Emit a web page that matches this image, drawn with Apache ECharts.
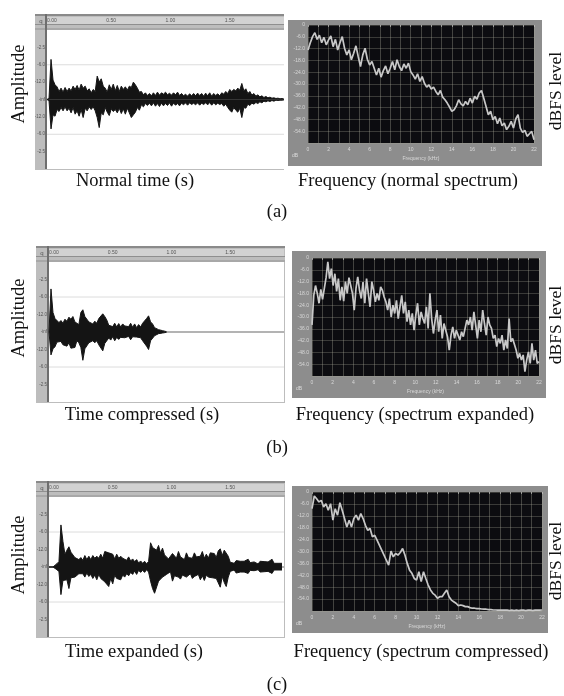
<!DOCTYPE html>
<html><head><meta charset="utf-8">
<style>html,body{margin:0;padding:0;background:#fff}#c{width:564px;height:696px;filter:blur(0.5px)}</style>
<script src="https://cdn.jsdelivr.net/npm/echarts@6/dist/echarts.min.js"></script>
</head><body><div id="c"></div>
<script>
// ---- Waveform envelopes (upper / lower amplitude, full scale = 208) ----
const waveAUpper=[0,3,120,58,44,38,24,34,22,36,24,34,26,40,30,42,28,46,34,40,26,32,20,30,24,70,52,62,40,34,22,44,30,46,26,42,24,40,30,38,28,40,36,52,44,34,22,24,14,20,12,18,11,20,12,22,13,20,16,22,14,19,13,20,14,22,12,18,11,16,10,17,11,18,11,19,12,18,10,19,11,20,10,18,12,17,11,20,16,24,18,30,24,30,26,34,28,48,26,32,18,24,13,18,10,14,8,11,6,9,5,7,4,5,3,4,2,3,1];
const waveALower=[0,3,88,46,50,30,36,24,34,22,34,26,40,24,44,34,50,30,54,26,34,22,30,22,34,54,84,40,46,24,38,48,28,36,30,40,26,42,28,44,26,40,54,46,38,24,32,16,22,12,18,11,19,10,20,12,21,11,19,12,18,10,20,11,17,12,19,11,16,10,17,10,15,11,16,10,17,11,15,10,16,9,17,10,16,11,15,12,20,14,24,32,38,24,32,38,26,54,24,26,14,18,11,14,9,12,7,10,5,7,4,6,3,5,2,3,2,2,1];
const waveBUpper=[0,128,58,40,38,28,34,26,38,32,44,38,46,30,32,22,58,66,46,48,30,34,24,32,26,40,38,54,46,36,20,24,16,26,15,25,15,24,18,22,16,26,14,24,13,22,15,26,28,40,48,30,24,13,14,7,8,4,3,1];
const waveBLower=[0,68,50,44,30,34,28,38,36,42,32,48,46,46,26,32,46,84,50,50,32,36,26,32,26,38,38,56,34,32,18,24,14,26,16,22,16,21,17,22,13,23,14,19,15,20,17,26,24,42,52,26,23,11,12,5,7,3,2,1];
const waveCUpper=[0,0,0,3,10,16,125,76,38,50,60,44,42,28,30,22,28,20,34,22,32,22,34,26,32,26,38,26,46,44,42,42,38,24,38,26,32,26,30,20,30,18,24,16,22,12,18,11,17,10,16,72,58,62,50,64,42,56,36,34,24,24,40,40,26,46,30,34,22,42,28,32,26,42,30,34,32,46,26,38,26,42,40,40,28,48,54,34,50,50,32,14,19,11,19,15,17,13,17,15,23,13,17,15,18,9,17,13,16,11,15,13,23,11,15,11,15,11];
const waveCLower=[0,0,0,3,8,14,82,40,38,38,64,32,34,30,26,20,24,20,30,18,28,22,34,24,38,22,34,32,44,48,58,34,50,24,34,32,38,24,30,20,26,16,22,12,22,10,16,10,16,8,15,42,64,78,76,42,44,30,34,22,26,14,42,26,30,30,36,24,28,30,32,20,34,28,32,22,38,26,40,24,30,32,32,36,34,34,60,28,46,58,30,13,17,9,18,13,15,11,15,12,19,10,15,11,15,8,15,11,14,9,13,11,19,9,14,9,13,9];
// ---- Spectra in dB, evenly spaced over 0–22 kHz ----
const spectrumA=[-12.7,-9,-5.9,-3.9,-7.3,-5.2,-9,-6.3,-10.1,-7.6,-5.6,-11,-7.3,-12.7,-9,-5.9,-11.8,-15.2,-12.7,-17.7,-14.4,-10.6,-16.1,-21.1,-15.2,-11.8,-17.4,-20.3,-18.6,-22,-25.4,-22,-26.5,-23.2,-20.8,-24.8,-22,-18.6,-22.8,-17.7,-21.1,-23.2,-19.8,-22,-19.4,-23.7,-25.4,-27.5,-24.8,-28.7,-26.2,-29.6,-31.6,-30.4,-32.6,-31.6,-33.8,-35.5,-33.3,-36.7,-38,-39.7,-41.7,-43.9,-43.1,-41.1,-38,-40.1,-41.1,-38.9,-40.6,-37.2,-39.7,-36.3,-37.7,-34.6,-33.3,-37.2,-41.4,-45.6,-43.9,-48.2,-46.5,-50.2,-47.3,-51.2,-49.9,-53.2,-51.5,-49,-52.4,-47.8,-45.6,-52.4,-54.6,-53.6,-56.6,-55.3,-54.1,-58.3];
const spectrumB=[-34,-19,-14,-18,-23,-16,-21,-22,-10,-2,-10.5,-5.4,-14,-8,-17,-10.5,-21.5,-14.7,-22,-12,-18,-10,-14,-18,-26.5,-15.5,-9.6,-16.4,-20.6,-12.2,-23,-10.5,-18,-24.8,-12,-16.4,-22.3,-18,-21.5,-14.7,-16.4,-19.8,-22.3,-26.5,-20.6,-30,-24,-28.2,-21.5,-30.8,-24.8,-19,-28.2,-22.3,-32.4,-26.5,-34,-28.2,-36.7,-29,-23,-34,-27.4,-30.8,-33.3,-24.8,-35.8,-18,-30.8,-38.4,-31.6,-26.5,-37.5,-29,-40.9,-33.3,-36.7,-40,-46.8,-39.2,-35,-40.9,-36.7,-39.2,-41.7,-37.5,-40,-35.8,-31.6,-34,-30,-36.7,-27.4,-34,-40.9,-31.6,-37.5,-26.5,-33.3,-39.2,-30,-34,-35.8,-40.9,-39.2,-45,-40.9,-43.4,-39.2,-46.8,-41.7,-46,-30.8,-42.6,-40.9,-40,-46.8,-51,-48.5,-51.9,-49.3,-57.8,-51.9,-47.7,-53.6,-43.4,-51.9,-46.8,-53.6,-52.7];
const spectrumC=[-8.4,-2,-3.4,-5,-4.2,-7.5,-5.9,-9.2,-5.9,-14.2,-8.4,-11.7,-5.4,-9.2,-13.4,-17.6,-14.2,-17.6,-13.4,-11.7,-14.2,-10.9,-13.4,-16.8,-19.3,-18.4,-22.6,-21.8,-24.3,-26.8,-29.3,-31.8,-34.4,-36.9,-29.8,-32.7,-31,-31.8,-30.5,-28.5,-31.8,-36,-39.4,-41,-43.6,-44.4,-40.2,-45.2,-40.2,-43.6,-46.9,-49.4,-51.1,-52,-53.6,-52.8,-52.8,-51.1,-49.4,-52.8,-54.5,-55.3,-56.1,-57.3,-57,-57.3,-57.8,-57.8,-58.3,-58.6,-58.6,-58.8,-58.8,-59,-59.1,-59.1,-59.3,-59.3,-59.5,-59.5,-59.6,-59.5,-59.6,-59.6,-59.6,-59.8,-59.6,-59.8,-59.6,-59.8,-59.6,-59.5,-59.8,-59.6,-59.6,-59.8,-59.6,-59.5,-59.6,-59.5];
// ---- Tick labels ----
const timeTicks={0:'0.00',0.5:'0.50',1:'1.00',1.5:'1.50'};
const ampTicks={156:'-2.5',104:'-6.0',52:'-12.0',0:'-inf','-52':'-12.0','-104':'-6.0','-156':'-2.5'};
const dbTicks=['-6.0','-12.0','-18.0','-24.0','-30.0','-36.0','-42.0','-48.0','-54.0'];
const timeStep=2/118;
const serif='"Liberation Serif","Times New Roman",serif';

// ---- Layout ----
const waves=[
 {x:35,y:14,left:47,top:30,h:139,up:waveAUpper,lo:waveALower},
 {x:36,y:246,left:49,top:262,h:140,up:waveBUpper,lo:waveBLower},
 {x:36,y:481,left:49,top:497,h:140,up:waveCUpper,lo:waveCLower}];
const specs=[
 {x:288,y:20,w:254,h:146,left:308,top:25,gw:226,gh:118,d:spectrumA},
 {x:292,y:251,w:254,h:147,left:312,top:258,gw:227,gh:118,d:spectrumB},
 {x:292,y:486,w:256,h:147,left:312,top:492,gw:230,gh:119,d:spectrumC}];
const labels=[
 ['Normal time (s)',135,181],['Frequency (normal spectrum)',408,181],['(a)',277,212],
 ['Time compressed (s)',142,415],['Frequency (spectrum expanded)',415,415],['(b)',277,448],
 ['Time expanded (s)',134,652],['Frequency (spectrum compressed)',421,652],['(c)',277,685]];
const rotated=[['Amplitude',19,84,18.5],['dBFS level',556,91,17.5],['Amplitude',19,318,18.5],['dBFS level',556,325,17.5],['Amplitude',19,555,18.5],['dBFS level',556,561,17.5]];

const grid=[],xAxis=[],yAxis=[],series=[],graphic=[];
const rect=(x,y,w,h,fill)=>graphic.push({type:'rect',z:-10,silent:true,shape:{x,y,width:w,height:h},style:{fill}});
waves.forEach((p)=>{
  const i=grid.length;
  rect(p.x,p.y,249,p.top+p.h-p.y+1,'#bdbdbd');
  rect(p.x,p.y,249,2,'#8a8a8a');
  rect(p.left,p.y+3,284-p.left,7,'#d2d2d2');
  rect(p.x,p.y+10,249,1,'#8f8f8f');
  rect(p.x,p.top-2,249,2,'#a8a8a8');
  rect(p.left-2,p.y,2,p.top+p.h-p.y,'#6e6e6e');
  graphic.push({type:'text',z:5,silent:true,style:{text:'q',x:p.x+6,y:p.y+7,font:'6px "Liberation Sans"',fill:'#555',align:'center',verticalAlign:'middle'}});
  grid.push({left:p.left,top:p.top,width:284-p.left,height:p.h,show:true,backgroundColor:'#fff',borderWidth:0});
  xAxis.push({gridIndex:i,type:'value',position:'top',min:0,max:2,interval:0.5,
    axisLine:{show:false},axisTick:{show:false},splitLine:{show:false},
    axisLabel:{margin:7,fontSize:5,color:'#555',align:'left',showMaxLabel:false,formatter:v=>timeTicks[v]||''}});
  yAxis.push({gridIndex:i,type:'value',min:-208,max:208,interval:52,
    axisLine:{show:false},axisTick:{show:false},splitLine:{show:false},
    axisLabel:{margin:2,fontSize:4.5,color:'#555',formatter:v=>ampTicks[v]||''}});
  const pts=a=>a.map((v,k)=>[k*timeStep,v]);
  const mk=(arr)=>({type:'line',xAxisIndex:i,yAxisIndex:i,data:pts(arr),showSymbol:false,silent:true,
    lineStyle:{color:'#161616',width:1},areaStyle:{color:'#141414',opacity:1},z:3});
  const ref=(v,color,width)=>({type:'line',xAxisIndex:i,yAxisIndex:i,data:[[0,v],[2,v]],showSymbol:false,silent:true,
    lineStyle:{color,width},z:1});
  series.push(ref(104,'#dcdcdc',1),ref(-104,'#dcdcdc',1),ref(0,'#9a9a9a',1.5),mk(p.up),mk(p.lo.map(v=>-v)));
});
specs.forEach((p)=>{
  const i=grid.length;
  rect(p.x,p.y,p.w,p.h,'#8d8d8d');
  graphic.push({type:'text',z:5,silent:true,style:{text:'dB',x:p.left-13,y:p.top+p.gh+13,font:'5px "Liberation Sans"',fill:'#ddd',align:'center',verticalAlign:'middle'}});
  grid.push({left:p.left,top:p.top,width:p.gw,height:p.gh,show:true,backgroundColor:'#0c0c10',borderWidth:0});
  xAxis.push({gridIndex:i,type:'value',min:0,max:22,interval:1,name:'Frequency (kHz)',nameLocation:'middle',nameGap:13,
    nameTextStyle:{fontSize:5,color:'#d8d8d8'},
    axisLine:{show:false},axisTick:{show:true,length:2,lineStyle:{color:'#d0d0d0',width:0.6}},
    splitLine:{show:true,lineStyle:{color:'rgba(165,165,150,0.36)',width:1}},
    axisLabel:{margin:4,fontSize:5,color:'#d8d8d8',formatter:v=>v%2===0?String(v):''}});
  yAxis.push({gridIndex:i,type:'value',min:-60,max:0,interval:6,
    axisLine:{show:false},axisTick:{show:false},
    splitLine:{show:true,lineStyle:{color:'rgba(165,165,150,0.3)',width:1}},
    axisLabel:{margin:3,fontSize:5,color:'#d8d8d8',formatter:v=>{const k=Math.round(-v/6)-1;return v===0?'0':(dbTicks[k]||'');}}});
  const n=p.d.length-1;
  series.push({type:'line',xAxisIndex:i,yAxisIndex:i,data:p.d.map((v,k)=>[22*k/n,v]),showSymbol:false,silent:true,
    lineStyle:{color:'#c8c8c8',width:1.7},z:3});
});
labels.forEach(([text,x,y])=>graphic.push({type:'text',z:10,silent:true,style:{text,x,y,font:'18.5px '+serif,fill:'#111',align:'center',verticalAlign:'middle'}}));
rotated.forEach(([text,x,y,size])=>graphic.push({type:'text',z:10,silent:true,x,y,rotation:Math.PI/2,style:{text,x:0,y:0,font:size+'px '+serif,fill:'#111',align:'center',verticalAlign:'middle'}}));

const chart=echarts.init(document.getElementById('c'),null,{renderer:'canvas'});
chart.setOption({animation:false,backgroundColor:'#fff',grid,xAxis,yAxis,series,graphic});
</script></body></html>
